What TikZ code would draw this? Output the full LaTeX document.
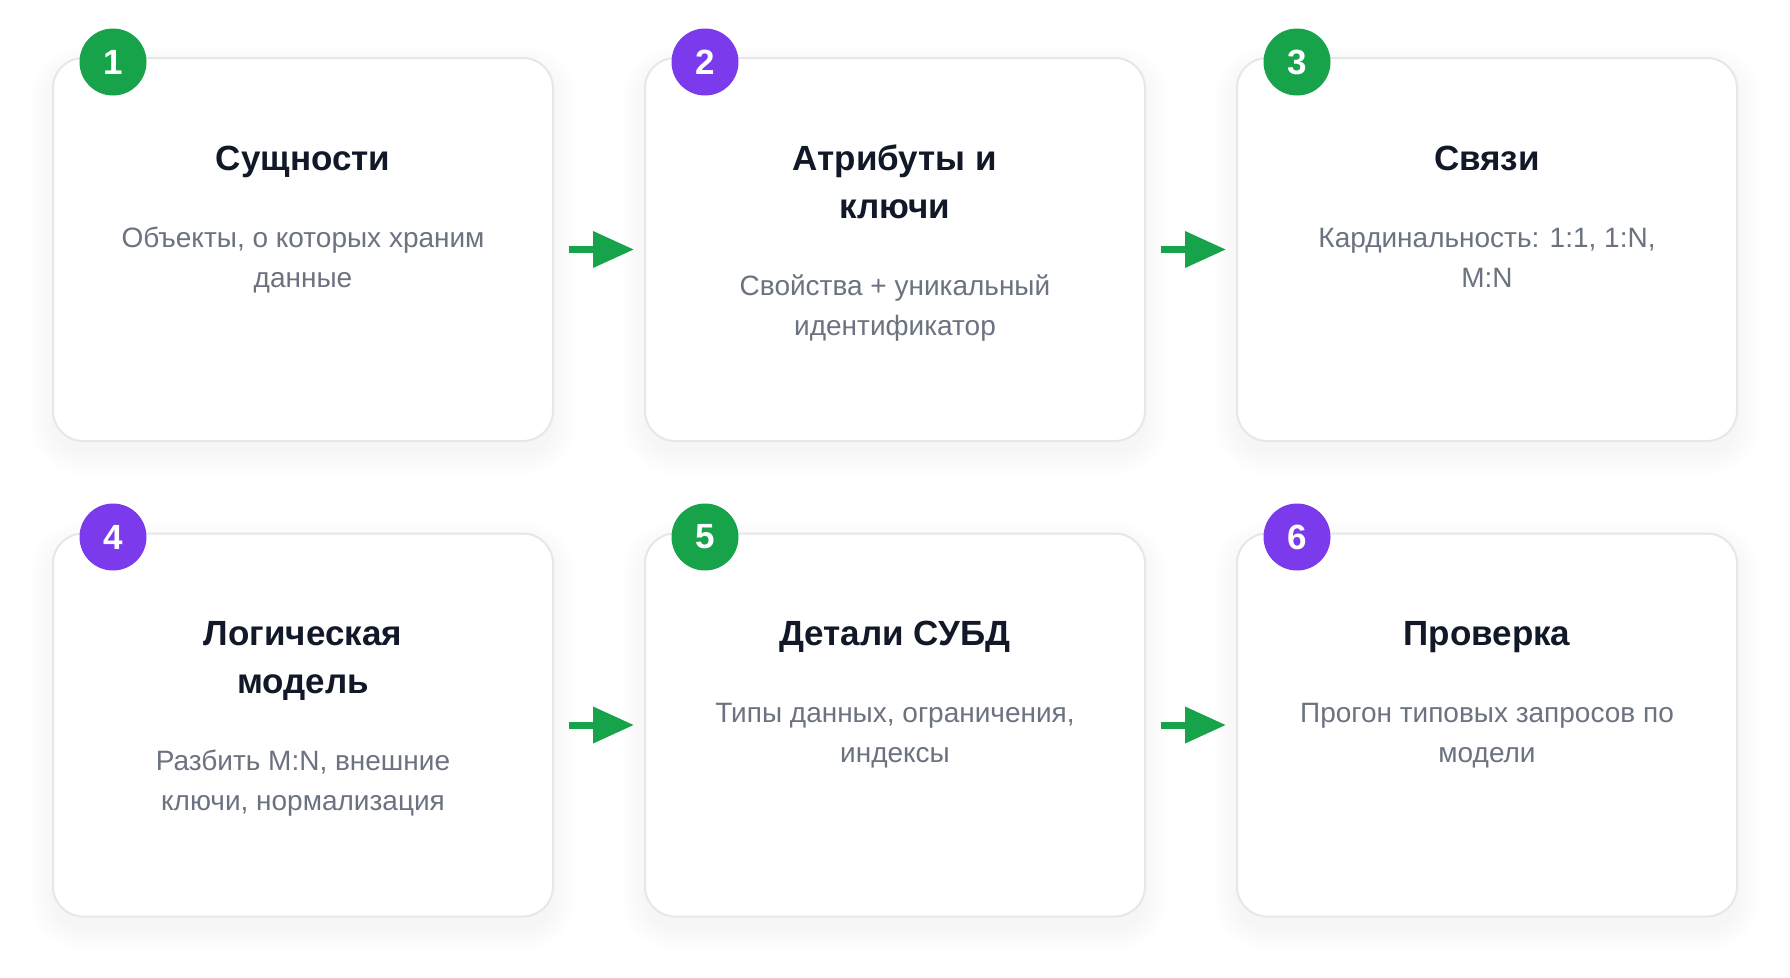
\documentclass[tikz,border=0pt]{standalone}
\usepackage{fontspec}
\setmainfont{Liberation Sans}
\usetikzlibrary{arrows.meta}
\definecolor{grn}{HTML}{16A34A}
\definecolor{prp}{HTML}{7C3AED}
\definecolor{ttlc}{HTML}{111827}
\definecolor{dscc}{HTML}{6B7280}
\definecolor{brd}{HTML}{E5E7EB}
\newcommand\cshadow[2]{%
  \foreach \e in {0,3,...,24}{%
    \pgfmathsetmacro\rr{30+\e}%
    \fill[black, opacity=0.005, rounded corners=\rr pt]
      ({#1-250-\e},{#2-191.5-\e+11}) rectangle ({#1+250+\e},{#2+191.5+\e+11});
  }}
\begin{document}
\begin{tikzpicture}[x=1pt,y=-1pt,
  card/.style={draw=brd, line width=2pt, fill=white, rounded corners=30pt,
    minimum width=500pt, minimum height=383pt, inner sep=0pt, outer sep=0pt},
  badge/.style={circle, minimum size=67pt, inner sep=0pt, text=white,
    font=\fontsize{35}{40}\selectfont\bfseries},
  ttl/.style={anchor=base, align=center, inner sep=0pt, text=ttlc,
    font=\fontsize{35}{48}\selectfont\bfseries},
  dsc/.style={anchor=base, align=center, inner sep=0pt, text=dscc,
    font=\fontsize{28}{40}\selectfont},
  flow/.style={draw=grn, line width=7pt, -{Triangle[length=41pt,width=35pt]}, shorten <=16pt, shorten >=11pt}
]
\useasboundingbox (0,0) rectangle (1790,977);
\fill[white] (0,0) rectangle (1790,977);

% shadows
\cshadow{303}{249.5}
\cshadow{895}{249.5}
\cshadow{1487}{249.5}
\cshadow{303}{725}
\cshadow{895}{725}
\cshadow{1487}{725}

% cards
\node[card] (c1) at (303,249.5) {};
\node[card] (c2) at (895,249.5) {};
\node[card] (c3) at (1487,249.5) {};
\node[card] (c4) at (303,725) {};
\node[card] (c5) at (895,725) {};
\node[card] (c6) at (1487,725) {};

% arrows
\draw[flow] (c1.east) -- (c2.west);
\draw[flow] (c2.east) -- (c3.west);
\draw[flow] (c4.east) -- (c5.west);
\draw[flow] (c5.east) -- (c6.west);

% badges
\node[badge, fill=grn] (b1) at (113,62) {1};
\node[badge, fill=prp] (b2) at (705,62) {2};
\node[badge, fill=grn] (b3) at (1297,62) {3};
\node[badge, fill=prp] (b4) at (113,537) {4};
\node[badge, fill=grn] (b5) at (705,537) {5};
\node[badge, fill=prp] (b6) at (1297,537) {6};

% texts row 1 (anchor base = last line baseline)
\node[ttl] (t1) at (303,170) {Сущности};
\node[dsc] (d1) at (303,287) {Объекты, о которых храним\\данные};
\node[ttl] (t2) at (895,218) {Атрибуты и\\ключи};
\node[dsc] (d2) at (895,335) {Свойства + уникальный\\идентификатор};
\node[ttl] (t3) at (1487,170) {Связи};
\node[dsc] (d3) at (1487,287) {Кардинальность: 1:1, 1:N,\\M:N};

% texts row 2
\node[ttl] (t4) at (303,693) {Логическая\\модель};
\node[dsc] (d4) at (303,810) {Разбить M:N, внешние\\ключи, нормализация};
\node[ttl] (t5) at (895,645) {Детали СУБД};
\node[dsc] (d5) at (895,762) {Типы данных, ограничения,\\индексы};
\node[ttl] (t6) at (1487,645) {Проверка};
\node[dsc] (d6) at (1487,762) {Прогон типовых запросов по\\модели};
\end{tikzpicture}
\end{document}
